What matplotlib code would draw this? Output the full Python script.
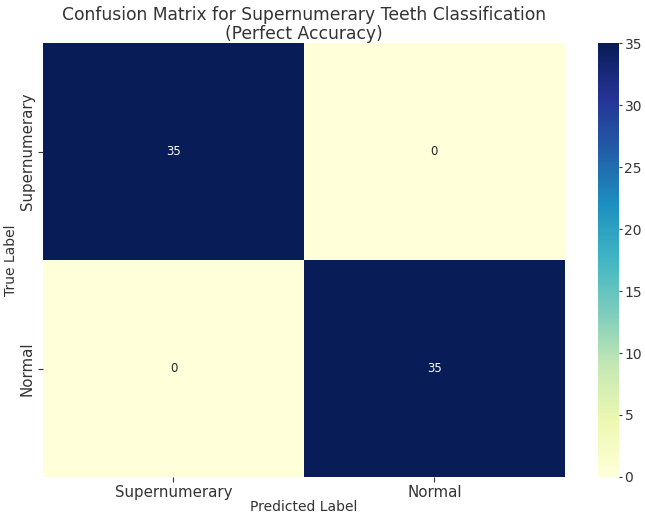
import numpy as np
import matplotlib
matplotlib.use("Agg")
import matplotlib.pyplot as plt
import seaborn as sns

class_labels = ["Supernumerary", "Normal"]
conf_matrix = np.array([[35, 0],
                        [0, 35]])

fig = plt.figure(figsize=(6.45, 5.16), dpi=100)
ax = fig.add_axes([0.0667, 0.0756, 0.809, 0.841])
cax = fig.add_axes([0.927, 0.0756, 0.0326, 0.841])

sns.heatmap(conf_matrix, annot=True, fmt="d", cmap="YlGnBu",
            xticklabels=class_labels, yticklabels=class_labels,
            ax=ax, cbar_ax=cax, annot_kws={"fontsize": 8.5})

ax.set_title("Confusion Matrix for Supernumerary Teeth Classification\n(Perfect Accuracy)",
             fontsize=12.3, color="#333333", pad=3, linespacing=1.05)
ax.set_xlabel("Predicted Label", fontsize=10, color="#333333", labelpad=0)
ax.set_ylabel("True Label", fontsize=10, color="#333333", labelpad=1)
ax.tick_params(labelsize=10.8, colors="#333333", pad=2.5)
cax.tick_params(labelsize=10, colors="#333333", pad=1.5, length=2.5)

fig.savefig("out.png", dpi=100)
